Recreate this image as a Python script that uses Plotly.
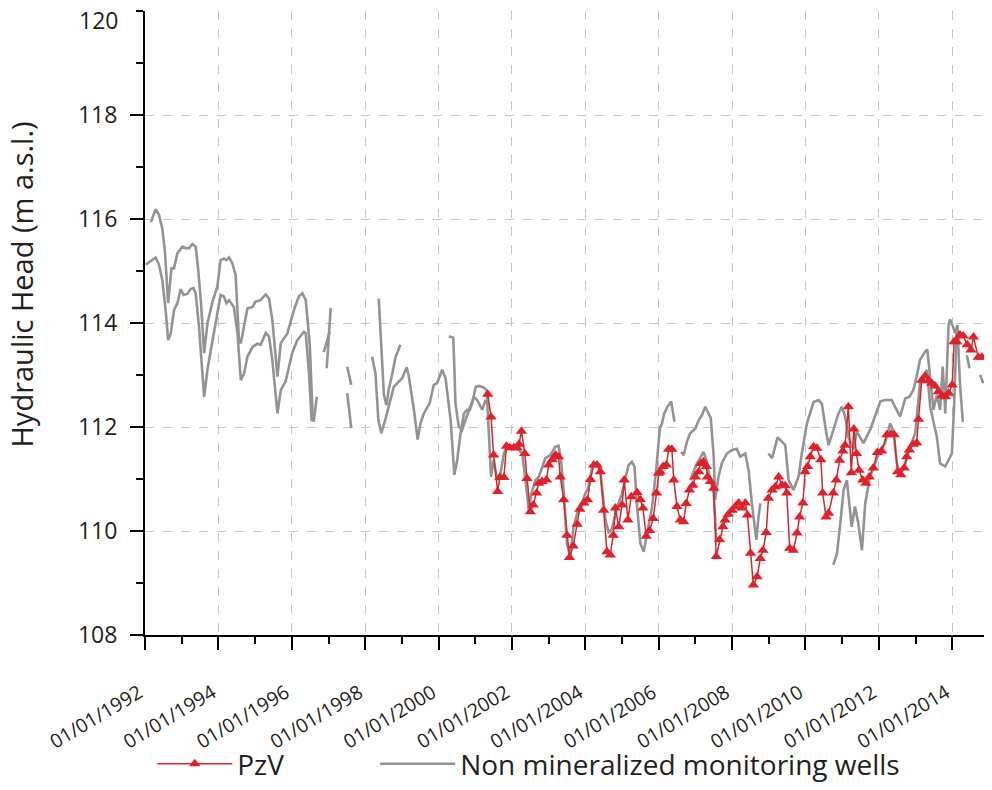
from datetime import datetime, timedelta

import plotly.graph_objects as go

# PzV piezometer (decimal year, hydraulic head in m a.s.l.)
pzv_year = [
    2001.34, 2001.43, 2001.50, 2001.61, 2001.67, 2001.78, 2001.85, 2001.94, 2002.05, 2002.14,
    2002.19, 2002.26, 2002.35, 2002.41, 2002.50, 2002.58, 2002.67, 2002.73, 2002.82, 2002.94,
    2003.00, 2003.10, 2003.19, 2003.27, 2003.32, 2003.41, 2003.50, 2003.57, 2003.67, 2003.78,
    2003.85, 2003.96, 2004.06, 2004.14, 2004.23, 2004.32, 2004.41, 2004.50, 2004.59, 2004.68,
    2004.76, 2004.82, 2004.91, 2005.00, 2005.06, 2005.16, 2005.25, 2005.41, 2005.50, 2005.57,
    2005.66, 2005.75, 2005.85, 2005.94, 2006.00, 2006.04, 2006.12, 2006.21, 2006.27, 2006.36,
    2006.41, 2006.50, 2006.59, 2006.68, 2006.75, 2006.84, 2006.93, 2007.00, 2007.09, 2007.15,
    2007.22, 2007.30, 2007.33, 2007.41, 2007.50, 2007.57, 2007.66, 2007.75, 2007.81, 2007.90,
    2008.00, 2008.09, 2008.18, 2008.27, 2008.36, 2008.42, 2008.50, 2008.58, 2008.68, 2008.77,
    2008.84, 2008.93, 2008.99, 2009.09, 2009.18, 2009.27, 2009.36, 2009.45, 2009.49, 2009.57,
    2009.67, 2009.77, 2009.84, 2009.93, 2009.99, 2010.06, 2010.13, 2010.22, 2010.31, 2010.42,
    2010.47, 2010.56, 2010.63, 2010.76, 2010.84, 2010.93, 2011.02, 2011.08, 2011.17, 2011.25,
    2011.32, 2011.39, 2011.46, 2011.56, 2011.65, 2011.74, 2011.85, 2011.96, 2012.08, 2012.22,
    2012.33, 2012.42, 2012.51, 2012.60, 2012.69, 2012.76, 2012.83, 2012.94, 2013.03, 2013.08,
    2013.17, 2013.26, 2013.35, 2013.44, 2013.53, 2013.62, 2013.72, 2013.81, 2013.90, 2014.00,
    2014.05, 2014.12, 2014.21, 2014.30, 2014.41, 2014.51, 2014.58, 2014.71, 2014.81,
]
pzv_head = [
    112.63, 112.19, 111.46, 110.76, 111.03, 111.03, 111.63, 111.60, 111.60, 111.60,
    111.67, 111.92, 111.49, 111.01, 110.37, 110.50, 110.73, 110.92, 110.95, 110.98,
    111.27, 111.37, 111.46, 111.43, 111.04, 110.60, 109.92, 109.49, 109.71, 110.13,
    110.42, 110.54, 110.60, 110.99, 111.27, 111.27, 111.14, 110.40, 109.60, 109.54,
    109.92, 110.44, 110.08, 110.50, 110.98, 110.21, 110.66, 110.74, 110.60, 110.44,
    109.90, 110.01, 110.24, 110.73, 111.11, 111.14, 111.24, 111.27, 111.57, 111.57,
    110.98, 110.47, 110.21, 110.18, 110.53, 110.79, 110.88, 111.04, 111.14, 111.30,
    111.33, 111.24, 111.04, 110.95, 110.82, 109.51, 109.83, 110.08, 110.21, 110.32,
    110.40, 110.47, 110.54, 110.44, 110.54, 110.31, 109.57, 108.96, 109.12, 109.47,
    109.63, 109.97, 110.63, 110.79, 110.85, 111.04, 110.88, 110.87, 110.73, 109.67,
    109.63, 109.96, 110.27, 110.54, 111.14, 111.24, 111.43, 111.62, 111.59, 111.37,
    110.73, 110.27, 110.34, 110.73, 110.98, 111.36, 111.54, 111.65, 112.39, 111.12,
    111.96, 111.49, 111.17, 110.98, 110.92, 111.04, 111.21, 111.51, 111.54, 111.85,
    111.86, 111.85, 111.14, 111.08, 111.21, 111.43, 111.56, 111.67, 111.69, 112.15,
    112.90, 112.98, 112.89, 112.84, 112.79, 112.68, 112.60, 112.58, 112.65, 112.81,
    113.64, 113.64, 113.77, 113.75, 113.58, 113.48, 113.73, 113.34, 113.34,
]

# Non mineralized monitoring wells (None = gap in the record)
well1_year = [
    1992.16, 1992.29, 1992.38, 1992.47, 1992.54, 1992.63, 1992.72, 1992.79, 1992.88, 1993.02,
    1993.11, 1993.20, 1993.29, 1993.38, 1993.44, 1993.52, 1993.61, 1993.70, 1993.84, 1993.97,
    1994.06, 1994.15, 1994.22, 1994.29, 1994.38, 1994.47, 1994.56, 1994.61, 1994.79, 1994.93,
    1995.01, 1995.15, 1995.29, 1995.38, 1995.47, 1995.61, 1995.70, 1995.88, 1996.06, 1996.19,
    1996.29, 1996.38, 1996.49, 1996.57, 1996.62, None, 1996.95, 1997.06, None, 1997.51, 1997.62,
]
well1_head = [
    115.94, 116.19, 116.08, 115.82, 115.40, 114.38, 115.05, 115.05, 115.34, 115.47,
    115.44, 115.44, 115.52, 115.47, 115.08, 114.44, 113.42, 113.99, 114.41, 114.70,
    115.21, 115.24, 115.21, 115.26, 115.15, 114.92, 113.67, 113.61, 114.28, 114.31,
    114.41, 114.44, 114.55, 114.47, 114.06, 112.97, 113.61, 113.80, 114.25, 114.51,
    114.57, 114.44, 113.58, 112.17, 112.17, None, 113.13, 114.29, None, 113.16, 112.81,
]

well2_year = [
    1992.02, 1992.29, 1992.38, 1992.47, 1992.56, 1992.63, 1992.70, 1992.79, 1992.88, 1992.97,
    1993.05, 1993.15, 1993.24, 1993.32, 1993.38, 1993.47, 1993.61, 1993.70, 1993.84, 1993.97,
    1994.06, 1994.15, 1994.22, 1994.29, 1994.42, 1994.52, 1994.61, 1994.70, 1994.79, 1994.93,
    1995.06, 1995.15, 1995.29, 1995.38, 1995.47, 1995.61, 1995.70, 1995.83, 1996.01, 1996.15,
    1996.33, 1996.38, 1996.47, 1996.54, 1996.60, 1996.68, None, 1996.87, 1997.03, None,
    1997.51, 1997.62,
]
well2_head = [
    115.12, 115.26, 115.12, 114.83, 114.25, 113.67, 113.80, 114.25, 114.38, 114.65,
    114.54, 114.56, 114.65, 114.67, 114.57, 113.93, 112.58, 113.10, 113.67, 114.19,
    114.54, 114.51, 114.38, 114.44, 114.31, 113.80, 112.90, 113.03, 113.35, 113.54,
    113.60, 113.58, 113.81, 113.74, 113.29, 112.26, 112.71, 112.87, 113.42, 113.67,
    113.83, 113.80, 113.03, 112.13, 112.12, 112.58, None, 113.44, 113.83, None,
    112.65, 111.98,
]

well3_year = [
    1998.19, 1998.28, 1998.36, 1998.44, 1998.56, 1998.67, 1998.78, 1998.87, 1999.01, 1999.13,
    1999.19, 1999.33, 1999.43, 1999.51, 1999.60, 1999.76, 1999.87, 1999.96, 2000.10, 2000.19,
    2000.33, 2000.43, 2000.51, 2000.60, 2000.69, 2000.78, 2000.85, 2000.92, 2001.01, 2001.10,
    2001.22, 2001.31, 2001.37, 2001.43, 2001.50, 2001.60, 2001.69, 2001.78, 2001.91, 2002.05,
    2002.19, 2002.28, 2002.37, 2002.46, 2002.53, 2002.64, 2002.73, 2002.82, 2002.91, 2003.05,
    2003.18, 2003.27, 2003.34, 2003.41, 2003.50, 2003.59, 2003.68, 2003.78, 2003.87, 2004.00,
    2004.09, 2004.18, 2004.27, 2004.39, 2004.46, 2004.55, 2004.64, 2004.73, 2004.87, 2005.00,
    2005.09, 2005.18, 2005.27, 2005.34, 2005.41, 2005.50, 2005.59, 2005.68, 2005.82, 2005.94,
    2006.03, 2006.09, 2006.15, 2006.24, 2006.34, 2006.43,
]
well3_head = [
    113.35, 113.03, 112.13, 111.88, 112.17, 112.46, 112.77, 112.84, 112.94, 113.15,
    112.97, 112.33, 111.76, 112.07, 112.26, 112.46, 112.81, 112.84, 113.10, 112.94,
    112.13, 111.08, 111.37, 111.88, 112.26, 112.33, 112.33, 112.46, 112.77, 112.79,
    112.76, 112.71, 111.94, 111.04, 111.37, 110.98, 111.11, 111.49, 111.65, 111.59,
    111.56, 111.49, 110.98, 110.40, 110.72, 110.98, 111.04, 111.24, 111.40, 111.46,
    111.62, 111.64, 111.37, 110.79, 109.76, 109.51, 110.08, 110.34, 110.47, 110.72,
    110.85, 111.21, 111.30, 111.27, 110.85, 110.21, 109.96, 110.05, 110.47, 110.72,
    111.01, 111.27, 111.33, 111.24, 110.47, 109.76, 109.60, 109.96, 110.47, 111.24,
    111.97, 112.07, 112.26, 112.39, 112.49, 112.10,
]

well4_year = [1998.37, 1998.44, 1998.51, 1998.58, 1998.64, 1998.74, 1998.83, 1998.96]
well4_head = [114.47, 113.54, 112.62, 112.42, 112.71, 113.03, 113.35, 113.58]

well5_year = [2000.28, 2000.40, 2000.43, 2000.46, 2000.55, 2000.64, 2000.73, 2000.87,
              2000.96, 2001.05, 2001.19, 2001.28]
well5_head = [113.74, 113.72, 113.16, 112.46, 112.01, 111.94, 112.13, 112.39,
              112.58, 112.52, 112.33, 112.52]

well6_year = [
    2006.61, 2006.68, 2006.77, 2006.86, 2007.00, 2007.09, 2007.18, 2007.27, 2007.36, 2007.42,
    2007.50, 2007.54, 2007.63, 2007.72, 2007.86, 2008.00, 2008.13, 2008.22, 2008.36, 2008.45,
    2008.54, 2008.66, 2008.72, 2008.77, None,
    2008.99, 2009.09, 2009.24, 2009.39, 2009.45, 2009.54, 2009.67, 2009.81, 2009.90, 2010.04,
    2010.22, 2010.36, 2010.45, 2010.54, 2010.63, 2010.76, 2010.90, 2010.99, 2011.08, 2011.17,
    2011.31, 2011.40, 2011.49, 2011.58, 2011.76, 2011.90, 2012.04, 2012.17, 2012.35, 2012.44,
    2012.58, 2012.72, 2012.83, 2012.94, 2013.03, 2013.12, 2013.26, 2013.32, 2013.40, 2013.49,
    2013.58, 2013.67, 2013.74, 2013.81, 2013.90, 2013.94, 2014.02, 2014.08, 2014.14, 2014.21,
    2014.29,
]
well6_head = [
    111.52, 111.46, 111.72, 111.88, 111.97, 112.13, 112.23, 112.39, 112.26, 112.17,
    111.43, 110.60, 111.04, 111.30, 111.49, 111.56, 111.58, 111.43, 111.49, 111.17,
    110.53, 109.83, 110.27, 110.53, None,
    111.49, 111.40, 111.80, 111.70, 111.65, 110.98, 110.79, 111.04, 111.49, 112.07,
    112.48, 112.52, 112.44, 112.01, 111.65, 111.94, 112.26, 112.39, 112.20, 111.81,
    111.56, 111.91, 111.81, 111.69, 111.94, 112.20, 112.49, 112.52, 112.52, 112.39,
    112.20, 112.55, 112.58, 112.71, 112.97, 113.29, 113.45, 113.49, 113.00, 112.33,
    112.62, 112.33, 113.16, 112.26, 113.96, 114.07, 113.93, 113.80, 113.96, 112.84,
    112.10,
]

well7_year = [
    2010.76, 2010.86, 2010.95, 2011.04, 2011.13, 2011.26, 2011.35, 2011.44, 2011.54, 2011.63,
    2011.76, 2011.90, 2012.04, 2012.17, 2012.31, 2012.40, 2012.49, 2012.58, 2012.72, 2012.85,
    2012.99, 2013.12, 2013.21, 2013.31, 2013.40, 2013.49, 2013.58, 2013.67, 2013.81, 2013.99,
    2014.05, 2014.12, 2014.19,
]
well7_head = [
    109.35, 109.57, 110.15, 110.79, 110.98, 110.08, 110.47, 110.15, 109.63, 110.53,
    111.04, 111.30, 111.56, 111.69, 112.07, 111.91, 111.30, 111.11, 111.30, 111.62,
    111.88, 112.84, 112.97, 113.10, 112.39, 112.13, 111.81, 111.30, 111.24, 111.49,
    112.39, 113.87, 113.58,
]

well8_year = [2014.40, 2014.47, None, 2014.76, 2014.85]
well8_head = [113.38, 113.13, None, 113.00, 112.84]

well9_year = [2006.86, 2007.04, 2007.13, 2007.22, 2007.30, 2007.39, 2007.50, 2007.57]
well9_head = [110.98, 111.30, 111.40, 111.52, 111.37, 111.04, 110.72, 109.83]

wells = [
    (well1_year, well1_head), (well2_year, well2_head), (well3_year, well3_head),
    (well4_year, well4_head), (well5_year, well5_head), (well6_year, well6_head),
    (well7_year, well7_head), (well8_year, well8_head), (well9_year, well9_head),
]

y_ticks = [108, 110, 112, 114, 116, 118, 120]

TEXT = "#231f20"
GRAY = "#939393"
RED = "#e3202a"
FONT = "Open Sans"


def to_dates(years):
    """decimal years -> datetimes (None kept as gap)"""
    out = []
    for y in years:
        if y is None:
            out.append(None)
            continue
        yr = int(y)
        start = datetime(yr, 1, 1)
        ndays = (datetime(yr + 1, 1, 1) - start).days
        out.append(start + timedelta(days=(y - yr) * ndays))
    return out


fig = go.Figure()

for i, (yrs, heads) in enumerate(wells):
    assert len(yrs) == len(heads)
    fig.add_trace(go.Scatter(
        x=to_dates(yrs), y=heads, mode="lines",
        line=dict(color=GRAY, width=2.6),
        name="Non mineralized monitoring wells",
        legend="legend2", showlegend=(i == 0),
        connectgaps=False,
    ))

assert len(pzv_year) == len(pzv_head)
fig.add_trace(go.Scatter(
    x=to_dates(pzv_year), y=pzv_head, mode="lines+markers",
    line=dict(color="#d3262d", width=1.5),
    marker=dict(symbol="triangle-up", size=10, color=RED),
    name="PzV", legend="legend",
))

# legends sit inside the bottom margin so they do not push the plot area up
legend_style = dict(
    orientation="h", y=-0.2448, xanchor="left", yanchor="bottom",
    font=dict(size=28, color=TEXT), itemwidth=75, bgcolor="rgba(0,0,0,0)",
)

# the page puts the figure 8px in from the top-left corner, so the
# figure is 8px smaller and the margins are shifted to compensate
fig.update_layout(
    width=984, height=782,
    margin=dict(l=137, r=2, t=3, b=154),
    paper_bgcolor="white", plot_bgcolor="white",
    font=dict(family=FONT, color=TEXT),
    showlegend=True,
    legend=dict(x=0.0086, **legend_style),
    legend2=dict(x=0.2724, **legend_style),
    annotations=[
        dict(
            text="Hydraulic Head (m a.s.l.)", textangle=-90,
            xref="paper", yref="paper", x=-0.1465, y=0.562,
            xanchor="center", yanchor="middle", showarrow=False,
            font=dict(size=29, color=TEXT),
        ),
        # top tick label would fall outside the figure, place it just inside
        dict(
            text=str(y_ticks[-1]), xref="paper", yref="paper", x=0, y=1,
            xanchor="right", yanchor="top", xshift=-25, yshift=9,
            showarrow=False, font=dict(size=23, color=TEXT),
        ),
    ],
)

fig.update_xaxes(
    type="date", range=["1992-01-01", "2015-01-12"], automargin=False,
    tick0="1992-01-01", dtick="M24", tickformat="%d/%m/%Y", tickangle=-31,
    ticks="outside", ticklen=13, tickwidth=2, tickcolor="black",
    tickfont=dict(size=19.5, color=TEXT), ticklabelstandoff=24, ticklabelshift=-6,
    showline=True, linecolor="black", linewidth=2,
    showgrid=True, gridcolor="#c4c4c4", griddash="dash", gridwidth=1,
    zeroline=False,
    minor=dict(dtick="M12", tick0="1992-01-01", ticks="outside", ticklen=7,
               tickwidth=2, tickcolor="black", showgrid=False),
)
fig.update_yaxes(
    range=[y_ticks[0], y_ticks[-1]], tickvals=y_ticks[:-1], automargin=False,
    ticks="outside", ticklen=13, tickwidth=2, tickcolor="black",
    tickfont=dict(size=23, color=TEXT), ticklabelstandoff=8,
    showline=True, linecolor="black", linewidth=2,
    showgrid=True, gridcolor="#c4c4c4", griddash="dash", gridwidth=1,
    zeroline=False,
    minor=dict(dtick=1, ticks="outside", ticklen=7, tickwidth=2,
               tickcolor="black", showgrid=False),
)

fig.write_html("out.html")
